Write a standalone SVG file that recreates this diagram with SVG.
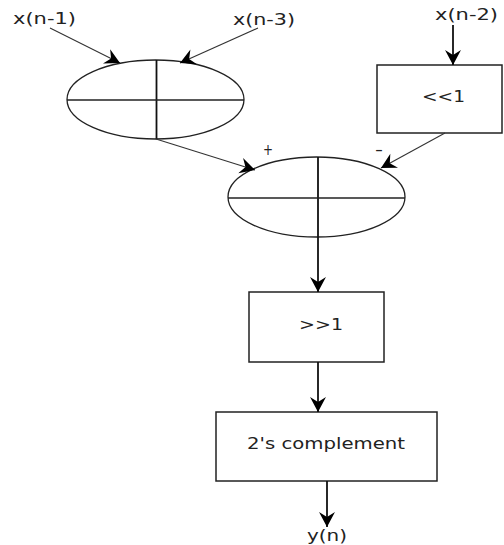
<svg xmlns="http://www.w3.org/2000/svg" width="504" height="545" viewBox="0 0 504 545">
<style>
.t{font-family:"DejaVu Sans","Verdana",sans-serif;font-size:15px;fill:#222}
.s{fill:none;stroke:#222;stroke-width:1.3}
.b{fill:#fff;stroke:#222;stroke-width:1.5}
.c{fill:none;stroke:#111;stroke-width:1.8}
.d{fill:none;stroke:#333;stroke-width:1.1}
</style>
<defs>
<marker id="ah" markerUnits="userSpaceOnUse" markerWidth="20" markerHeight="20" refX="0" refY="0" viewBox="-16 -10 20 20" orient="auto">
<path d="M0,0 L-15,-8 L-10,0 L-15,8 Z" fill="#000"/>
</marker>
</defs>
<rect width="504" height="545" fill="#fff"/>
<g id="in1"><text class="t" x="13" y="24" textLength="63" lengthAdjust="spacingAndGlyphs">x(n-1)</text></g>
<g id="in3"><text class="t" x="233" y="25" textLength="62" lengthAdjust="spacingAndGlyphs">x(n-3)</text></g>
<g id="in2"><text class="t" x="435" y="20" textLength="63" lengthAdjust="spacingAndGlyphs">x(n-2)</text></g>
<g id="add1">
<ellipse class="s" cx="155.5" cy="99.5" rx="88.5" ry="39.5"/>
<line class="c" x1="156.5" y1="60" x2="156.5" y2="139"/>
<line class="s" x1="67" y1="100" x2="244" y2="100"/>
</g>
<g id="shl">
<rect class="b" x="377" y="65" width="125" height="68"/>
<text class="t" x="422" y="102" textLength="43" lengthAdjust="spacingAndGlyphs">&lt;&lt;1</text>
</g>
<g id="add2">
<ellipse class="s" cx="316.5" cy="197" rx="88.5" ry="40"/>
<line class="c" x1="318" y1="157" x2="318" y2="237"/>
<line class="s" x1="228" y1="198" x2="405" y2="198"/>
<text class="t" x="263" y="155" textLength="10" lengthAdjust="spacingAndGlyphs">+</text>
<text class="t" x="375" y="155" textLength="8" lengthAdjust="spacingAndGlyphs">-</text>
</g>
<g id="shr">
<rect class="b" x="249" y="292" width="135" height="70"/>
<text class="t" x="299" y="330" textLength="44" lengthAdjust="spacingAndGlyphs">&gt;&gt;1</text>
</g>
<g id="comp">
<rect class="b" x="216" y="412" width="221" height="69"/>
<text class="t" x="247" y="449" textLength="158" lengthAdjust="spacingAndGlyphs">2's complement</text>
</g>
<g id="out"><text class="t" x="307" y="541" textLength="40" lengthAdjust="spacingAndGlyphs">y(n)</text></g>
<g id="connectors">
<line class="d" x1="50" y1="28" x2="120" y2="63" marker-end="url(#ah)"/>
<line class="d" x1="258" y1="28" x2="180" y2="63" marker-end="url(#ah)"/>
<line class="c" x1="453" y1="25" x2="453" y2="65" marker-end="url(#ah)"/>
<line class="d" x1="156" y1="139" x2="255" y2="170" marker-end="url(#ah)"/>
<line class="d" x1="445" y1="133" x2="381" y2="168" marker-end="url(#ah)"/>
<line class="c" x1="318" y1="237" x2="318" y2="292" marker-end="url(#ah)"/>
<line class="c" x1="318" y1="362" x2="318" y2="412" marker-end="url(#ah)"/>
<line class="c" x1="327" y1="481" x2="327" y2="527" marker-end="url(#ah)"/>
</g>
</svg>
